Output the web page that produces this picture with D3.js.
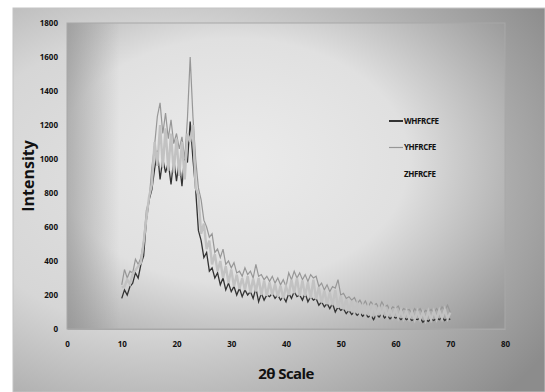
<!DOCTYPE html>
<html>
<head>
<meta charset="utf-8">
<script src="https://cdn.jsdelivr.net/npm/d3@7/dist/d3.min.js"></script>
<style>
  body { margin: 0; background: #fff; }
  svg text { font-family: "Open Sans", "DejaVu Sans", sans-serif; fill: #111; }
</style>
</head>
<body>
<svg id="chart" width="545" height="392"></svg>
<script>
// 2θ grid: 10 to 70 in 0.5 steps
const angleStart = 10, angleStep = 0.5;

const seriesNames = ['WHFRCFE', 'YHFRCFE', 'ZHFRCFE'];
const xTicks = [0, 10, 20, 30, 40, 50, 60, 70, 80];
const yTicks = [0, 200, 400, 600, 800, 1000, 1200, 1400, 1600, 1800];

const whValues = [
  180, 230, 200, 250, 270, 330, 300, 380, 430, 640,
  760, 820, 940, 1050, 880, 1000, 920, 980, 850, 1000,
  870, 990, 840, 1020, 980, 1220, 1000, 820, 580, 520,
  420, 450, 340, 360, 300, 330, 260, 300, 230, 270,
  220, 250, 200, 240, 190, 230, 200, 220, 180, 240,
  160, 210, 170, 200, 190, 210, 180, 200, 170, 190,
  160, 210, 180, 220, 190, 200, 170, 210, 160, 190,
  170, 180, 140, 160, 130, 150, 120, 150, 100, 130,
  110, 120, 90, 110, 85, 100, 80, 95, 75, 90,
  70, 80, 55, 85, 70, 90, 65, 80, 60, 75,
  65, 70, 55, 70, 55, 65, 50, 60, 55, 65,
  40, 55, 45, 60, 50, 65, 55, 70, 50, 65,
  55
];

const yhValues = [
  260, 350, 300, 340, 330, 410, 380, 420, 520, 700,
  760, 950, 1080, 1250, 1330, 1150, 1270, 1120, 1230, 1090,
  1150, 1060, 1130, 1000, 1240, 1600, 1250, 1000, 830, 760,
  640, 600, 540, 560, 450, 470, 420, 470, 380, 400,
  360, 390, 330, 340, 310, 360, 320, 340, 300, 380,
  310, 320, 290, 310, 280, 310, 270, 300, 260, 290,
  250, 330, 290, 340, 300, 330, 290, 320, 280, 320,
  300, 310, 250, 270, 230, 260, 220, 250, 240, 290,
  200, 210, 180, 190, 170, 185, 150, 170, 140, 165,
  130, 160, 140, 150, 120, 160, 130, 140, 110, 130,
  120, 135, 100, 120, 110, 115, 90, 120, 100, 120,
  90, 110, 100, 115, 95, 120, 100, 130, 110, 140,
  100
];

const zhValues = [
  245, 250, 290, 265, 325, 345, 370, 390, 510, 650,
  780, 850, 1100, 960, 1200, 950, 1180, 930, 1150, 920,
  1120, 900, 1100, 880, 1150, 1100, 1200, 830, 790, 560,
  620, 470, 520, 380, 440, 340, 400, 300, 370, 270,
  350, 250, 320, 235, 300, 230, 310, 215, 295, 220,
  300, 200, 285, 195, 275, 200, 265, 190, 255, 180,
  250, 200, 290, 210, 300, 195, 285, 195, 275, 180,
  290, 175, 245, 155, 225, 145, 215, 140, 230, 125,
  195, 115, 175, 105, 165, 95, 150, 90, 140, 85,
  135, 78, 140, 80, 125, 82, 130, 75, 115, 70,
  120, 65, 110, 62, 108, 60, 100, 55, 105, 58,
  100, 50, 105, 55, 105, 58, 110, 62, 115, 60,
  95
];

const seriesColors = ['#333333', '#979797', '#c2c2c2'];
const seriesWidths = [1.3, 1.2, 2.4];

const svg = d3.select('#chart');
const W = 545, H = 392;
const plot = { left: 67, right: 505, top: 23, bottom: 329 };

const defs = svg.append('defs');
const outerGrad = defs.append('radialGradient').attr('id', 'outerGrad')
  .attr('cx', '28%').attr('cy', '45%').attr('r', '85%');
outerGrad.append('stop').attr('offset', '0%').attr('stop-color', '#e2e2e2');
outerGrad.append('stop').attr('offset', '45%').attr('stop-color', '#d6d6d6');
outerGrad.append('stop').attr('offset', '100%').attr('stop-color', '#8c8c8c');

const plotGrad = defs.append('radialGradient').attr('id', 'plotGrad')
  .attr('cx', '38%').attr('cy', '45%').attr('r', '80%');
plotGrad.append('stop').attr('offset', '0%').attr('stop-color', '#ebebeb');
plotGrad.append('stop').attr('offset', '50%').attr('stop-color', '#e0e0e0');
plotGrad.append('stop').attr('offset', '100%').attr('stop-color', '#959595');

const leftShade = defs.append('linearGradient').attr('id', 'leftShade')
  .attr('x1', '0%').attr('x2', '100%').attr('y1', '0%').attr('y2', '0%');
leftShade.append('stop').attr('offset', '0%').attr('stop-color', '#888').attr('stop-opacity', 0.55);
leftShade.append('stop').attr('offset', '12%').attr('stop-color', '#888').attr('stop-opacity', 0);

// outer chart area
svg.append('rect').attr('x', 13).attr('y', 8).attr('width', W - 13).attr('height', H - 8)
  .attr('fill', 'url(#outerGrad)').attr('stroke', '#c4c4c4');

// plot area
svg.append('rect').attr('x', plot.left).attr('y', plot.top)
  .attr('width', plot.right - plot.left).attr('height', plot.bottom - plot.top)
  .attr('fill', 'url(#plotGrad)');
svg.append('rect').attr('x', plot.left).attr('y', plot.top)
  .attr('width', plot.right - plot.left).attr('height', plot.bottom - plot.top)
  .attr('fill', 'url(#leftShade)').attr('stroke', '#a8a8a8');

const x = d3.scaleLinear().domain([0, 80]).range([plot.left, plot.right]);
const y = d3.scaleLinear().domain([0, 1800]).range([plot.bottom, plot.top]);

// axes
const xAxis = d3.axisBottom(x).tickValues(xTicks).tickSize(0).tickPadding(12).tickFormat(d3.format('d'));
svg.append('g').attr('transform', `translate(0,${plot.bottom})`).call(xAxis)
  .call(g => g.select('.domain').attr('stroke', '#a8a8a8'))
  .selectAll('text').style('font-size', '8px').style('font-weight', 700);

const yAxis = d3.axisLeft(y).tickValues(yTicks).tickSize(0).tickPadding(9).tickFormat(d3.format('d'));
svg.append('g').attr('transform', `translate(${plot.left},0)`).call(yAxis)
  .call(g => g.select('.domain').remove())
  .selectAll('text').style('font-size', '8px').style('font-weight', 700);

// series
const table = whValues.map((v, i) => ({
  angle: angleStart + i * angleStep,
  vals: [v, yhValues[i], zhValues[i]]
}));

const line = k => d3.line().x(d => x(d.angle)).y(d => y(d.vals[k]));

[0, 1, 2].forEach(k => {
  svg.append('path').datum(table)
    .attr('d', line(k))
    .attr('fill', 'none')
    .attr('stroke', seriesColors[k])
    .attr('stroke-width', seriesWidths[k])
    .attr('stroke-linejoin', 'miter');
});

// legend
const legend = svg.append('g');
seriesNames.forEach((name, i) => {
  const ly = 121 + i * 26.5;
  legend.append('line').attr('x1', 389).attr('x2', 403).attr('y1', ly).attr('y2', ly)
    .attr('stroke', i === 2 ? 'none' : seriesColors[i]).attr('stroke-width', i === 0 ? 2 : 1.2);
  legend.append('text').attr('x', 404).attr('y', ly).attr('dy', '0.35em')
    .style('font-size', '8px').style('font-weight', 700).style('letter-spacing', '-0.4px')
    .text(name);
});

// axis titles
svg.append('text').attr('x', (plot.left + plot.right) / 2).attr('y', 379)
  .attr('text-anchor', 'middle').style('font-size', '15px').style('font-weight', 700)
  .style('letter-spacing', '-0.6px').text('2θ Scale');

svg.append('text')
  .attr('transform', `translate(34,${(plot.top + plot.bottom) / 2}) rotate(-90)`)
  .attr('text-anchor', 'middle').style('font-size', '16px').style('font-weight', 700)
  .text('Intensity');
</script>
</body>
</html>
